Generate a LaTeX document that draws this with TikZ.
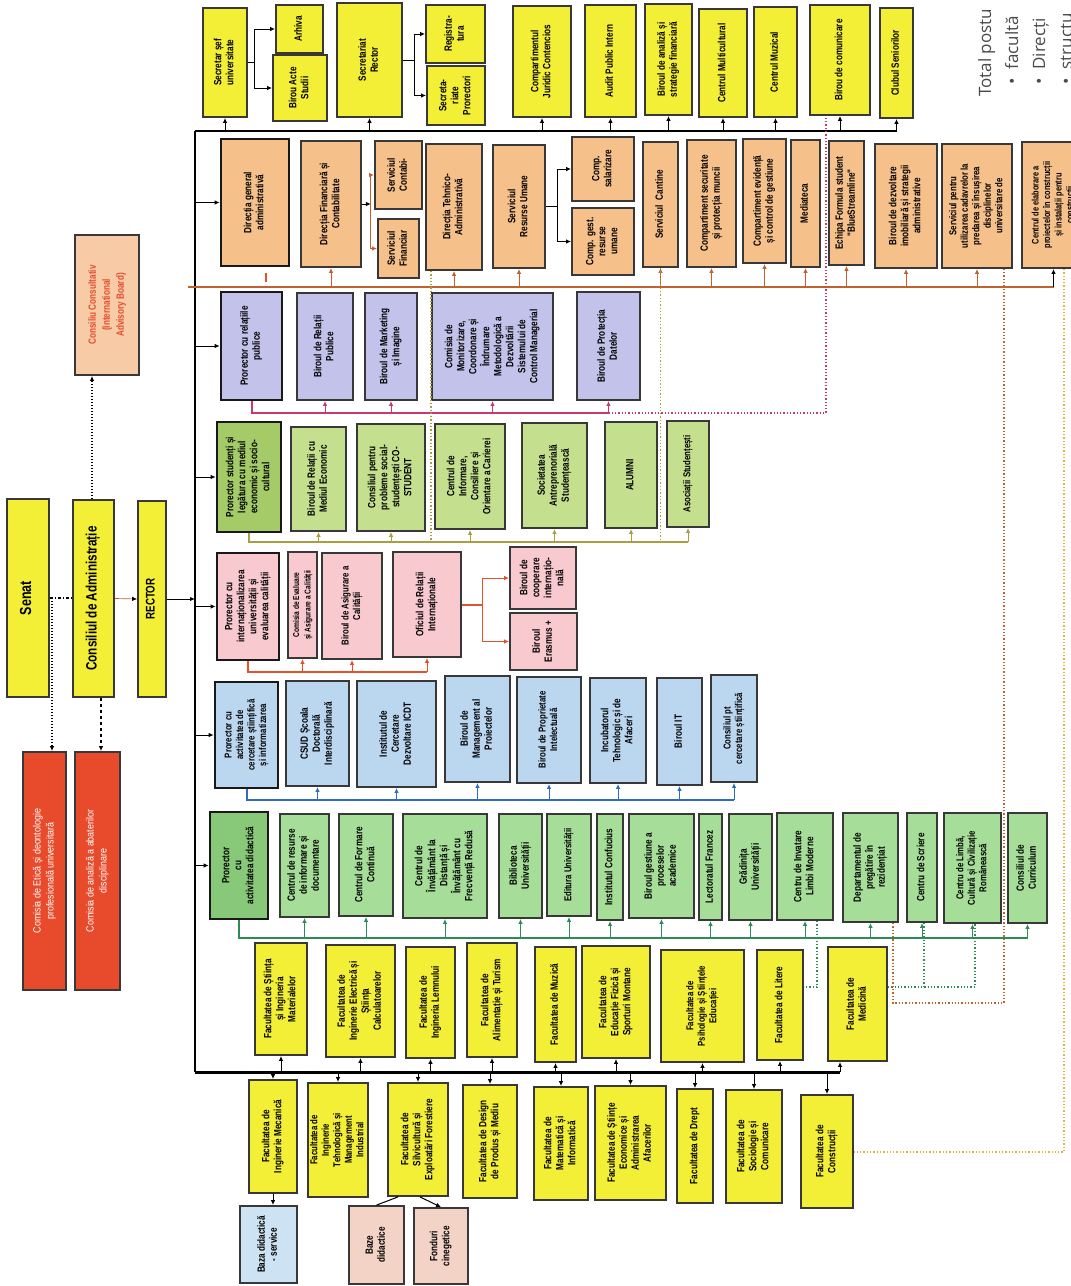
\documentclass[tikz,border=0pt]{standalone}
\usepackage{fontspec}
\usepackage{graphicx}
\usetikzlibrary{arrows.meta}
\newfontfamily\nbf{Liberation Sans}[FakeStretch=0.78]
\newfontfamily\wrm{Liberation Sans}[FakeStretch=0.85]
\newfontfamily\notefont{Open Sans}
\definecolor{uniyellow}{HTML}{F3EE36}
\definecolor{dirorange}{HTML}{F5C08A}
\definecolor{prlilac}{HTML}{C3C2EA}
\definecolor{stolive}{HTML}{C4DF8E}
\definecolor{stolivedk}{HTML}{A5CB68}
\definecolor{intpink}{HTML}{F8C9CF}
\definecolor{resblue}{HTML}{BBD7F0}
\definecolor{didgreen}{HTML}{A6DD98}
\definecolor{didgreendk}{HTML}{88C979}
\definecolor{comred}{HTML}{E84B2C}
\definecolor{advpeach}{HTML}{F7CBA6}
\definecolor{basepink}{HTML}{F2D3C6}
\definecolor{baseblue}{HTML}{CDE2F2}
\definecolor{lnorange}{HTML}{C0622E}
\definecolor{lnpink}{HTML}{C83A6E}
\definecolor{lnolive}{HTML}{A89F3E}
\definecolor{lnred}{HTML}{E5502D}
\definecolor{lnblue}{HTML}{2F6CC0}
\definecolor{lngreen}{HTML}{2E8A57}
\definecolor{lnyellow}{HTML}{E8B040}
\definecolor{notegray}{HTML}{4A4A4A}
% rotated box text and boxes given by their corners
\newcommand{\rtext}[1]{\rotatebox{90}{\begin{tabular}{@{}c@{}}#1\end{tabular}}}
\newcommand{\orgbox}[7]{\node[#1, minimum width={(#4)-(#2)}, minimum height={(#5)-(#3)}] (#6) at ({((#2)+(#4))/2},{((#3)+(#5))/2}) {\rtext{#7}};}

\begin{document}
\begin{tikzpicture}[x=1pt, y=-1pt,
box/.style={draw=black!78, line width=1.8pt, inner sep=1pt, font={\nbf\bfseries\fontsize{10.5}{12}\selectfont}},
prbox/.style={line width=2.6pt, draw=black!90},
small/.style={font={\nbf\bfseries\fontsize{#1}{11.5}\selectfont}},
ybox/.style={box, fill=uniyellow},
obox/.style={box, fill=dirorange},
lbox/.style={box, fill=prlilac},
sbox/.style={box, fill=stolive},
ibox/.style={box, fill=intpink},
cbox/.style={box, fill=resblue},
dbox/.style={box, fill=didgreen},
rbox/.style={box, fill=comred, text=white, font={\wrm\fontsize{10.5}{13}\selectfont}},
big/.style={font={\nbf\bfseries\fontsize{#1}{#1}\selectfont}},
trunk/.style={line width=1.4pt},
arr/.style={-{Latex[length=5pt,width=4.5pt]}, line width=1pt},
dotarr/.style={arr, dotted, line width=1.4pt},
dasharr/.style={arr, dashed, line width=1.4pt},
obus/.style={line width=2pt, lnorange}, oarr/.style={arr, lnorange},
pbus/.style={line width=2pt, lnpink}, parr/.style={arr, lnpink},
lbus/.style={line width=2pt, lnolive}, larr/.style={arr, lnolive},
rbus/.style={line width=2pt, lnred}, rarr/.style={arr, lnred},
bbus/.style={line width=2pt, lnblue}, barr/.style={arr, lnblue},
gbus/.style={line width=2.4pt, lngreen}, garr/.style={arr, lngreen},
pdot/.style={line width=1.3pt, lnpink, dotted},
ldot/.style={line width=1.3pt, lnolive, dotted},
gdot/.style={line width=1.3pt, lngreen, dotted},
odot/.style={line width=1.3pt, lnorange, dotted},
ydot/.style={line width=1.3pt, lnyellow, dotted}
]
\useasboundingbox[fill=white] (0,0) rectangle (1071,1286);

% conducere
\orgbox{ybox, big=16}{7}{499}{49}{697}{senat}{Senat}
\orgbox{ybox, big=15}{73}{500}{114}{697}{ca}{Consiliul de Administrație}
\orgbox{ybox, big=12.5}{138}{501}{166}{697}{rector}{RECTOR}
\orgbox{box, fill=advpeach, text=comred, font={\nbf\bfseries\fontsize{10.5}{14}\selectfont}}{75}{235}{139}{375}{cons}{Consiliu Consultativ\\(International\\Advisory Board)}
\orgbox{rbox}{23}{752}{66}{990}{etica}{Comisia de Etică și deontologie\\profesională universitară}
\orgbox{rbox}{75}{752}{120}{990}{anal}{Comisia de analiză a abaterilor\\disciplinare}

% secretariat
\orgbox{ybox}{203}{8}{247}{117}{sef}{Secretar șef\\universitate}
\orgbox{ybox}{276}{5}{323}{53}{arh}{Arhiva}
\orgbox{ybox}{273}{55}{327}{121}{acte}{Birou Acte\\Studii}
\orgbox{ybox}{337}{3}{402}{117}{secr}{Secretariat\\Rector}
\orgbox{ybox}{426}{5}{485}{63}{reg}{Registra-\\tura}
\orgbox{ybox}{427}{66}{485}{125}{spr}{Secreta-\\riate\\Prorectori}
\orgbox{ybox}{513}{6}{571}{117}{jur}{Compartimentul\\Juridic Contencios}
\orgbox{ybox}{585}{5}{636}{117}{aud}{Audit Public Intern}
\orgbox{ybox}{645}{4}{692}{115}{ana}{Biroul de analiză și\\strategie financiară}
\orgbox{ybox}{699}{9}{747}{117}{mult}{Centrul Multicultural}
\orgbox{ybox}{754}{7}{797}{117}{muz}{Centrul Muzical}
\orgbox{ybox}{810}{5}{870}{115}{com}{Birou de comunicare}
\orgbox{ybox}{880}{8}{913}{118}{club}{Clubul Seniorilor}

% directii
\orgbox{obox, prbox}{221}{139}{289}{266}{dga}{Direcția general\\administrativă}
\orgbox{obox}{301}{141}{361}{267}{dfc}{Direcția Financiară și\\Contabilitate}
\orgbox{obox}{375}{141}{422}{209}{scont}{Serviciul\\Contabi-}
\orgbox{obox}{378}{219}{419}{278}{sfin}{Serviciul\\Financiar}
\orgbox{obox}{426}{144}{482}{270}{dta}{Direcția Tehnico-\\Administrativă}
\orgbox{obox}{493}{145}{545}{268}{sru}{Serviciul\\Resurse Umane}
\orgbox{obox}{572}{137}{634}{201}{sal}{Comp.\\salarizare}
\orgbox{obox}{572}{208}{634}{275}{gest}{Comp. gest.\\resurse\\umane}
\orgbox{obox}{643}{142}{678}{267}{cant}{Serviciul\ \ Cantine}
\orgbox{obox}{687}{140}{736}{267}{sec}{Compartiment securitate\\și protecția muncii}
\orgbox{obox}{743}{139}{786}{263}{evid}{Compartiment evidență\\și control de gestiune}
\orgbox{obox}{791}{140}{820}{267}{mtc}{Mediateca}
\orgbox{obox}{829}{141}{864}{265}{fst}{Echipa Formula student\\"BlueStreamline"}
\orgbox{obox}{875}{144}{937}{268}{dezv}{Biroul de dezvoltare\\imobiliară și strategii\\administrative}
\orgbox{obox, small=10}{942}{144}{1012}{268}{cad}{Serviciul pentru\\utilizarea cadavrelor la\\predarea și însușirea\\disciplinelor\\universitare de}
\orgbox{obox, small=9.5}{1022}{142}{1085}{268}{elab}{Centrul de elaborare a\\proiectelor în construcții\\și instalații pentru\\construcții}

% relatii publice
\orgbox{lbox, prbox}{221}{292}{282}{400}{prp}{Prorector cu relațiile\\publice}
\orgbox{lbox}{297}{293}{353}{400}{brp}{Biroul de Relații\\Publice}
\orgbox{lbox}{365}{293}{417}{400}{bmk}{Biroul de Marketing\\și Imagine}
\orgbox{lbox}{432}{293}{553}{400}{cmon}{Comisia de\\Monitorizare,\\Coordonare și\\Îndrumare\\Metodologică a\\Dezvoltării\\Sistemului de\\Control Managerial}
\orgbox{lbox}{577}{292}{640}{400}{bpd}{Biroul de Protecția\\Datelor}

% studenti
\orgbox{sbox, prbox, fill=stolivedk}{217}{422}{281}{532}{pst}{Prorector studenți și\\legătura cu mediul\\economic și socio-\\cultural}
\orgbox{sbox}{291}{427}{346}{531}{brme}{Biroul de Relații cu\\Mediul Economic}
\orgbox{sbox}{357}{424}{425}{531}{cost}{Consiliul pentru\\probleme social-\\studențești CO-\\STUDENT}
\orgbox{sbox}{435}{424}{505}{529}{cio}{Centrul de\\Informare,\\Consiliere și\\Orientare a Carierei}
\orgbox{sbox}{522}{423}{587}{528}{soc}{Societatea\\Antreprenorială\\Studențească}
\orgbox{sbox}{605}{422}{657}{528}{alu}{ALUMNI}
\orgbox{sbox, small=10}{667}{421}{709}{527}{asoc}{Asociații Studențești}

% internationalizare
\orgbox{ibox, prbox}{217}{553}{279}{660}{pint}{Prorector cu\\internaționalizarea\\universității și\\evaluarea calității}
\orgbox{ibox, small=8.5}{288}{552}{317}{658}{ceac}{Comisia de Evaluare\\și Asigurare a Calității}
\orgbox{ibox, small=10}{322}{553}{382}{659}{bac}{Biroul de Asigurare a\\Calității}
\orgbox{ibox}{393}{552}{461}{657}{ori}{Oficiul de Relații\\Internaționale}
\orgbox{ibox}{510}{547}{576}{609}{coop}{Biroul de\\cooperare\\internațio-\\nală}
\orgbox{ibox}{510}{613}{577}{670}{eras}{Biroul\\Erasmus +}

% cercetare
\orgbox{cbox, prbox, small=10}{215}{682}{278}{788}{pcs}{Prorector cu\\activitatea de\\cercetare științifică\\și informatizarea}
\orgbox{cbox}{286}{681}{349}{786}{csud}{CSUD Școala\\Doctorală\\Interdisciplinară}
\orgbox{cbox}{357}{681}{436}{787}{icdt}{Institutul de\\Cercetare\\Dezvoltare ICDT}
\orgbox{cbox}{445}{676}{510}{782}{bmp}{Biroul de\\Management al\\Proiectelor}
\orgbox{cbox, small=10}{517}{677}{581}{783}{bpi}{Biroul de Proprietate\\Intelectuală}
\orgbox{cbox}{590}{678}{646}{783}{ita}{Incubatorul\\Tehnologic și de\\Afaceri}
\orgbox{cbox}{657}{678}{702}{785}{bit}{Biroul IT}
\orgbox{cbox, small=10}{711}{675}{757}{782}{cpc}{Consiliul pt\\cercetare științifică}

% activitate didactica
\orgbox{dbox, prbox, fill=didgreendk}{210}{812}{268}{919}{pdid}{Prorector\\cu\\activitatea didactică}
\orgbox{dbox}{280}{814}{329}{917}{crid}{Centrul de resurse\\de informare și\\documentare}
\orgbox{dbox}{339}{814}{393}{916}{cfc}{Centrul de Formare\\Continuă}
\orgbox{dbox}{403}{814}{487}{918}{cid}{Centrul de\\Învățământ la\\Distanță și\\Învățământ cu\\Frecvență Redusă}
\orgbox{dbox}{499}{814}{542}{918}{bib}{Biblioteca\\Universității}
\orgbox{dbox, small=10}{547}{814}{591}{916}{edu}{Editura Universității}
\orgbox{dbox}{597}{814}{623}{920}{icf}{Institutul Confucius}
\orgbox{dbox}{629}{814}{694}{918}{bgp}{Biroul gestiune a\\proceselor\\academice}
\orgbox{dbox}{699}{814}{722}{920}{lfr}{Lectoratul Francez}
\orgbox{dbox}{729}{814}{772}{920}{gru}{Grădinița\\Universității}
\orgbox{dbox}{777}{813}{833}{920}{lim}{Centru de Invatare\\Limbi Moderne}
\orgbox{dbox}{843}{813}{898}{922}{rez}{Departamentul de\\pregătire în\\rezidențiat}
\orgbox{dbox}{907}{813}{937}{922}{scr}{Centru de Scriere}
\orgbox{dbox, small=10}{944}{813}{1001}{923}{lcc}{Centru de Limbă,\\Cultură și Civilizație\\Românească}
\orgbox{dbox}{1008}{813}{1047}{923}{cur}{Consiliul de\\Curriculum}

% facultati
\orgbox{ybox}{255}{943}{307}{1055}{fsim}{Facultatea de Știința\\și Ingineria\\Materialelor}
\orgbox{ybox}{326}{945}{395}{1057}{fiesc}{Facultatea de\\Inginerie Electrică și\\Știința\\Calculatoarelor}
\orgbox{ybox}{406}{947}{455}{1058}{fil}{Facultatea de\\Ingineria Lemnului}
\orgbox{ybox}{467}{943}{517}{1057}{fat}{Facultatea de\\Alimentație și Turism}
\orgbox{ybox}{535}{947}{576}{1062}{fmz}{Facultatea de Muzică}
\orgbox{ybox}{582}{946}{650}{1058}{fefs}{Facultatea de\\Educație Fizică și\\Sporturi Montane}
\orgbox{ybox, small=10}{661}{950}{744}{1062}{fpse}{Facultatea de\\Psihologie și Științele\\Educației}
\orgbox{ybox}{757}{950}{803}{1060}{flit}{Facultatea de Litere}
\orgbox{ybox}{828}{947}{887}{1061}{fmed}{Facultatea de\\Medicină}
\orgbox{ybox}{249}{1080}{297}{1193}{fim}{Facultatea de\\Inginerie Mecanică}
\orgbox{ybox, small=10}{309}{1083}{367}{1197}{fitmi}{Facultatea de\\Inginerie\\Tehnologică și\\Management\\Industrial}
\orgbox{ybox}{388}{1083}{448}{1196}{fsef}{Facultatea de\\Silvicultură și\\Exploatări Forestiere}
\orgbox{ybox}{463}{1085}{517}{1198}{fdpm}{Facultatea de Design\\de Produs și Mediu}
\orgbox{ybox}{534}{1087}{588}{1200}{fmi}{Facultatea de\\Matematică și\\Informatică}
\orgbox{ybox}{595}{1086}{666}{1200}{fseaa}{Facultatea de Științe\\Economice și\\Administrarea\\Afacerilor}
\orgbox{ybox}{677}{1089}{713}{1203}{fdr}{Facultatea de Drept}
\orgbox{ybox}{726}{1090}{782}{1203}{fsc}{Facultatea de\\Sociologie și\\Comunicare}
\orgbox{ybox}{801}{1095}{853}{1208}{fcon}{Facultatea de\\Construcții}
\orgbox{box, fill=baseblue}{240}{1206}{297}{1283}{baza}{Baza didactică\\- service}
\orgbox{box, fill=basepink}{349}{1206}{404}{1284}{baze}{Baze\\didactice}
\orgbox{box, fill=basepink}{414}{1208}{468}{1284}{fond}{Fonduri\\cinegetice}

% legaturi conducere
\coordinate (d7) at (52,598);
\coordinate (d8) at (92,420);
\coordinate (d9) at (101,720);
\draw[line width=1.2pt, dashdotted] (d7 -| senat.east) -- (d7 -| ca.west);
\draw[dotarr] (d7) -- (d7 |- etica.north);
\draw[dotarr] (d8 |- ca.north) -- (d8 |- cons.south);
\draw[dasharr] (d9 |- ca.south) -- (d9 |- anal.north);
\draw[-{Latex[length=5pt,width=4.5pt,color=black]}, lnorange, line width=0.7pt] (ca.east) -- (rector.west);

% magistrala principala
\coordinate (vx) at (195,131);
\coordinate (vb) at (195,1072);
\coordinate (fe) at (840,1072);
\draw[trunk] (vx) -- (vb);
\draw[arr] (rector.east) -- (rector.east -| vx);
\foreach \n in {dga,prp,pst,pint,pcs,pdid}
  \draw[arr] (\n.west -| vx) -- (\n.west);
\draw[trunk, line width=2pt] (vx) -- (club.south |- vx);
\foreach \n in {sef,secr,jur,aud,ana,mult,muz,com,club}
  \draw[arr] (\n.south |- vx) -- (\n.south);
\draw[arr] (sef.east) -- ++(7,0) |- (arh.west);
\draw[arr] (sef.east) -- ++(7,0) |- (acte.west);
\draw[arr] (secr.east) -- ++(12,0) |- (reg.west);
\draw[arr] (secr.east) -- ++(12,0) |- (spr.west);

% directii
\coordinate (ob) at (188,287);
\coordinate (tk) at (266,287);
\draw[obus] (ob) -- (elab.south |- ob);
\foreach \n in {dfc,dta,sru,cant,sec,evid,mtc,fst,dezv,cad}
  \draw[oarr] (\n.south |- ob) -- (\n.south);
\draw[arr] (elab.south |- ob) -- (elab.south);
\draw[line width=1.8pt, lnred] ([yshift=5pt]tk) -- ([yshift=14pt]tk);
\draw[arr] (dfc.east) -- ++(9,0) coordinate (fb);
\draw[oarr] (fb) |- (scont.west);
\draw[oarr] (fb) |- (sfin.west);
\draw[arr] (sru.east) -- ++(12,0) |- (sal.west);
\draw[arr] (sru.east) -- ++(12,0) |- (gest.west);

% relatii publice
\coordinate (pb) at (0,413);
\coordinate (pd) at (826,413);
\draw[pbus] (prp.south) |- (bpd.south |- pb);
\foreach \n in {brp,bmk,cmon,bpd}
  \draw[parr] (\n.south |- pb) -- (\n.south);
\draw[pdot] (bpd.south |- pb) -- (pd) -- (pd |- com.south);

% studenti
\coordinate (lb) at (0,542);
\coordinate (ld) at (431,542);
\draw[lbus] (pst.south) |- (asoc.south |- lb);
\foreach \n in {brme,cost,cio,soc,alu,asoc}
  \draw[larr] (\n.south |- lb) -- (\n.south);
\draw[ldot] (cant.south) -- (cant.south |- lb);
\draw[ldot] (ld |- dta.south) -- (ld);

% internationalizare
\coordinate (rb) at (0,672);
\draw[rbus] (pint.south) |- (ori.south |- rb);
\foreach \n in {ceac,bac,ori}
  \draw[rarr] (\n.south |- rb) -- (\n.south);
\draw[rbus] (ori.east) -- ++(21,0) coordinate (rk);
\draw[rarr] (rk) |- (coop.west);
\draw[rarr] (rk) |- (eras.west);

% cercetare
\coordinate (bb) at (0,800);
\draw[bbus] (pcs.south) |- (cpc.south |- bb);
\foreach \n in {csud,icdt,bmp,bpi,ita,bit,cpc}
  \draw[barr] (\n.south |- bb) -- (\n.south);

% didactic
\coordinate (gb) at (0,938);
\draw[gbus] (pdid.south) |- (cur.south |- gb);
\foreach \n in {crid,cfc,cid,bib,edu,icf,bgp,lfr,gru,lim,rez,scr,lcc,cur}
  \draw[garr] (\n.south |- gb) -- (\n.south);

% facultati
\draw[trunk, line width=3pt] (vb) -- (fe);
\foreach \n in {fsim,fiesc,fil,fat,fmz,fefs,fpse,flit}
  \draw[arr] (\n.south |- vb) -- (\n.south);
\draw[arr] (fe) -- (fe |- fmed.south);
\foreach \n in {fim,fitmi,fsef,fdpm,fmi,fseaa,fdr,fsc,fcon}
  \draw[arr] (\n.north |- vb) -- (\n.north);
\draw[arr] (fim.south) -- (fim.south |- baza.north);
\draw[line width=1pt] ([xshift=-20pt]fsef.south) -- (baze.north);
\draw[arr] ([xshift=2pt]fsef.south) -- (fond.north);

% legaturi punctate
\coordinate (d1) at (817,987);
\coordinate (d2) at (924,987);
\coordinate (d3) at (975,987);
\coordinate (d4) at (893,1003);
\coordinate (d5) at (1004,1003);
\coordinate (d6) at (1064,1152);
\draw[gdot] (d1 |- lim.south) -- (d1) -- (d1 -| flit.east);
\draw[gdot] (d2 -| fmed.east) -- (d3) -- (d3 |- lcc.south);
\draw[gdot] (d2) -- (d2 |- scr.south);
\draw[odot] (d4 |- rez.south) -- (d4) -- (d5) -- (d5 |- cad.south);
\draw[ydot] (d6 |- elab.south) -- (d6) -- (d6 -| fcon.east);

% nota
\node[anchor=south west, inner sep=0pt, text=notegray, font={\notefont\fontsize{17}{27}\selectfont}] (nota) at (972,97)
  {\rotatebox{90}{\begin{tabular}{@{}l@{}}Total postu\\\hspace{12pt}•\hspace{9pt}facultă\\\hspace{12pt}•\hspace{9pt}Direcți\\\hspace{12pt}•\hspace{9pt}structu\end{tabular}}};
\end{tikzpicture}
\end{document}
